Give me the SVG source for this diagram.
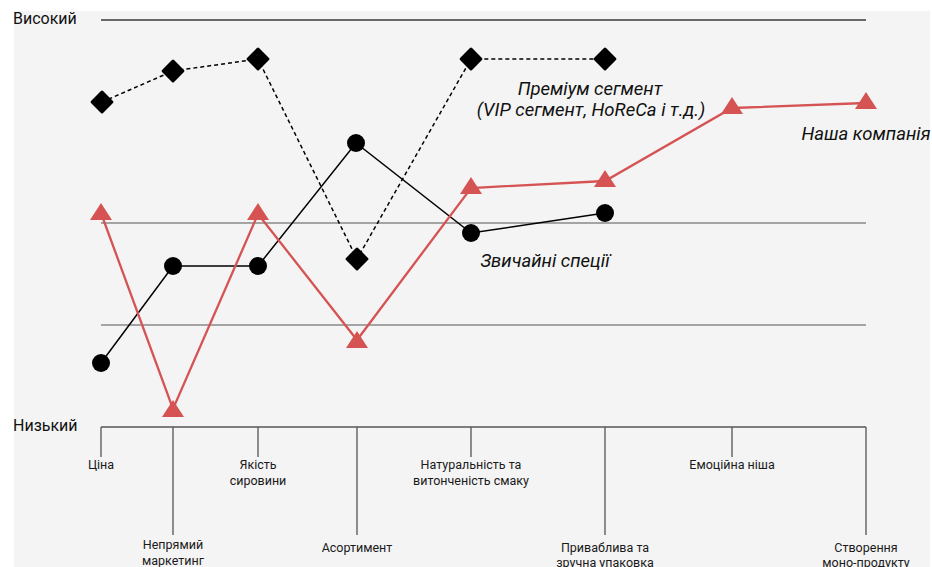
<svg xmlns="http://www.w3.org/2000/svg" width="932" height="567" viewBox="0 0 932 567">
<style>
.bg{fill:#f4f4f4}
.grid{stroke:#8a8a8a;stroke-width:1.3;fill:none}
.top{stroke:#3a3a3a;stroke-width:1.3}
.axis{stroke:#555;stroke-width:1.3;fill:none}
.lbl{font-family:Roboto,"Liberation Sans",sans-serif;font-size:12.5px;fill:#1a1a1a;text-anchor:middle}
.lvl{font-family:Roboto,"Liberation Sans",sans-serif;font-size:16px;fill:#111}
.ser{font-family:Roboto,"Liberation Sans",sans-serif;font-size:18.5px;font-style:italic;fill:#111}
.black{stroke:#000;stroke-width:1.5;fill:none}
.dash{stroke:#000;stroke-width:1.5;fill:none;stroke-dasharray:4 3}
.red{stroke:#d55353;stroke-width:2.3;fill:none}
.tri{fill:#d55353}
.dot{fill:#000}
</style>
<defs>
<polygon id="tri" points="0,-9 11,8 -11,8"/>
<rect id="dia" x="-8.5" y="-8.5" width="17" height="17" rx="1.5" transform="rotate(45)"/>
</defs>
<rect class="bg" x="14" y="11" width="916" height="556"/>
<g id="levels">
<line class="top" x1="101" y1="20" x2="866" y2="20"/>
<line class="grid" x1="101" y1="223" x2="866" y2="223"/>
<line class="grid" x1="101" y1="325" x2="866" y2="325"/>
<text class="lvl" x="13" y="24">Високий</text>
<text class="lvl" x="13" y="431">Низький</text>
</g>
<g id="axis">
<path class="axis" d="M101,427H866M101,427V457M173,427V535M258,427V457M357,427V535M471,427V457M605,427V535M732,427V457M866,427V535"/>
<text class="lbl" x="101" y="469">Ціна</text>
<text class="lbl" x="173" y="549">Непрямий</text>
<text class="lbl" x="173" y="565">маркетинг</text>
<text class="lbl" x="258" y="469">Якість</text>
<text class="lbl" x="258" y="485">сировини</text>
<text class="lbl" x="357" y="552">Асортимент</text>
<text class="lbl" x="471" y="469">Натуральність та</text>
<text class="lbl" x="471" y="485">витонченість смаку</text>
<text class="lbl" x="605" y="552">Приваблива та</text>
<text class="lbl" x="605" y="567">зручна упаковка</text>
<text class="lbl" x="732" y="469">Емоційна ніша</text>
<text class="lbl" x="866" y="552">Створення</text>
<text class="lbl" x="866" y="567">моно-продукту</text>
</g>
<g id="connectors">
<polyline class="dash" points="102,102 173,71 258,59 357,259 471,59 605,59"/>
<polyline class="black" points="101,363 173,266 258,266 356,143 471,233 605,213"/>
<polyline class="red" points="101,213 173,409 258,214 357,340 471,188 605,181 732,108 866,103"/>
</g>
<g id="premium">
<use href="#dia" class="dot" x="102" y="102"/>
<use href="#dia" class="dot" x="173" y="71"/>
<use href="#dia" class="dot" x="258" y="59"/>
<use href="#dia" class="dot" x="357" y="259"/>
<use href="#dia" class="dot" x="471" y="59"/>
<use href="#dia" class="dot" x="605" y="59"/>
<text class="ser" x="590" y="95" text-anchor="middle">Преміум сегмент</text>
<text class="ser" x="591" y="116" text-anchor="middle">(VIP сегмент, HoReCa і т.д.)</text>
</g>
<g id="regular">
<circle class="dot" cx="101" cy="363" r="9"/>
<circle class="dot" cx="173" cy="266" r="9"/>
<circle class="dot" cx="258" cy="266" r="9"/>
<circle class="dot" cx="356" cy="143" r="9"/>
<circle class="dot" cx="471" cy="233" r="9"/>
<circle class="dot" cx="605" cy="213" r="9"/>
<text class="ser" x="545" y="267" text-anchor="middle">Звичайні спеції</text>
</g>
<g id="ours">
<use href="#tri" class="tri" x="101" y="212"/>
<use href="#tri" class="tri" x="173" y="409"/>
<use href="#tri" class="tri" x="258" y="212"/>
<use href="#tri" class="tri" x="357" y="340"/>
<use href="#tri" class="tri" x="471" y="186"/>
<use href="#tri" class="tri" x="605" y="179"/>
<use href="#tri" class="tri" x="732" y="106"/>
<use href="#tri" class="tri" x="866" y="101"/>
<text class="ser" x="866" y="140" text-anchor="middle">Наша компанія</text>
</g>
</svg>
